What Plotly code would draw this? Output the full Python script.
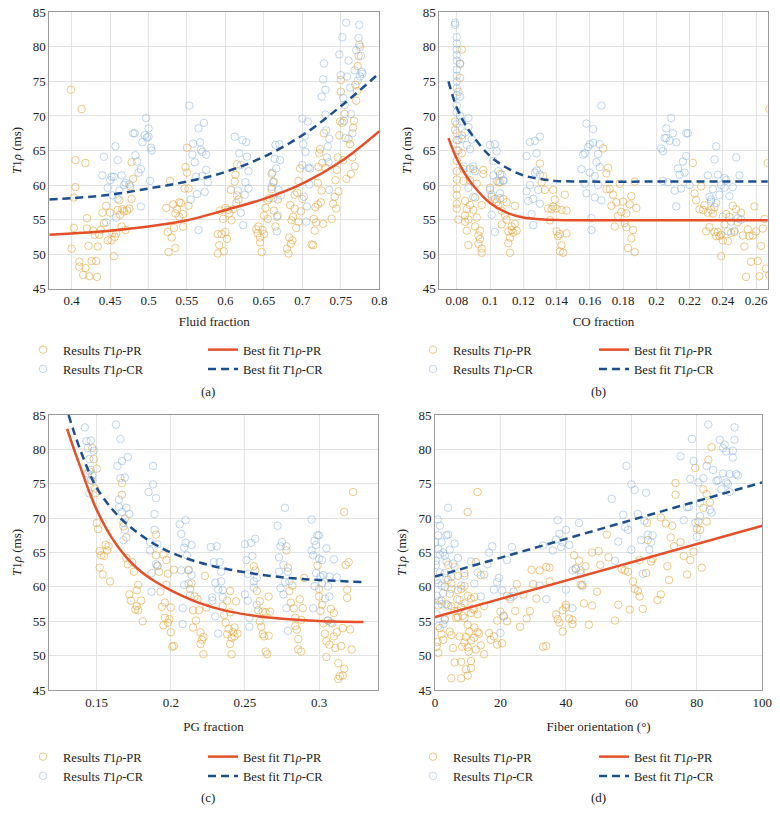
import plotly.graph_objects as go

# ---------------- data ----------------
A_PR = [(0.399,73.8),(0.40,50.8),(0.403,53.8),(0.403,58.2),(0.405,63.6),(0.405,59.7),(0.41,48.9),(0.41,48.2),(0.413,71),(0.415,47),
        (0.418,63.2),(0.418,48),(0.42,55.2),(0.42,53.7),(0.422,51.2),(0.423,46.8),(0.426,49),(0.428,53.4),(0.43,52.8),(0.432,49),
        (0.433,46.7),(0.434,51.1),(0.436,52.8),(0.438,53.5),(0.44,56),(0.442,54.5),(0.445,57),(0.447,52),(0.45,56),(0.452,52),
        (0.453,53.1),(0.455,49.7),(0.456,52.5),(0.458,53),(0.46,56.4),(0.462,57.8),(0.463,55.7),(0.465,54),(0.466,56.5),(0.468,56.2),
        (0.47,53.5),(0.472,56.3),(0.475,56.6),(0.478,58),(0.48,60.9),(0.478,63.3),(0.476,59.8),
        (0.523,56.7),(0.525,53.2),(0.526,50.3),(0.528,60.6),(0.53,52.4),(0.532,57.2),(0.533,53.8),(0.535,50.9),(0.535,55.9),(0.537,56.5),
        (0.54,57.5),(0.54,55.4),(0.542,57.4),(0.545,55.8),(0.545,54),(0.547,59.5),(0.548,62.6),(0.55,61.8),(0.55,65.4),(0.552,59.5),(0.552,57),
        (0.59,52.9),(0.59,50.1),(0.592,51.3),(0.593,56.3),(0.595,52.9),(0.597,55.1),(0.598,50.4),(0.6,56.7),(0.6,53.2),(0.602,52.2),
        (0.603,56.4),(0.605,55.9),(0.607,59.3),(0.608,54.9),(0.61,56.5),(0.612,60.5),(0.613,61.5),(0.615,63),(0.615,58.5),(0.617,57.9),
        (0.64,53.6),(0.642,53),(0.643,54),(0.645,52.4),(0.645,51.7),(0.647,50.3),(0.648,53.5),(0.65,52.9),(0.65,55.6),(0.652,56.7),
        (0.655,55.1),(0.655,57.8),(0.657,58.1),(0.66,59.4),(0.66,61.6),(0.662,60.4),(0.663,56.3),(0.665,54),(0.667,55.4),(0.668,57.9),
        (0.68,50.8),(0.682,50.1),(0.683,52.4),(0.684,57.1),(0.685,51.5),(0.686,54.9),(0.687,52),(0.688,55.4),(0.69,56.6),(0.69,58.6),
        (0.692,53.8),(0.693,58.9),(0.695,60.6),(0.695,54.7),(0.697,62.4),(0.698,56.2),(0.7,58),
        (0.712,51.4),(0.714,51.3),(0.715,55.1),(0.716,53.4),(0.717,56.8),(0.718,54.6),(0.72,57.2),(0.72,60.3),(0.721,62.6),(0.722,64.6),
        (0.723,65.2),(0.724,57.5),(0.725,59.2),(0.726,63.2),(0.727,54.4),(0.728,67.5),(0.73,62.5),
        (0.738,55.1),(0.74,57.3),(0.742,58.3),(0.743,60.7),(0.744,56.6),(0.745,62.2),(0.746,64),(0.747,59.1),(0.748,67.2),(0.749,69.2),
        (0.75,73.5),(0.75,75.2),(0.752,69),(0.753,63.6),(0.755,70.3),(0.757,60.9),(0.76,66.7),(0.762,65.9),(0.763,61.6),(0.765,64),
        (0.766,68.3),(0.767,69.3),(0.768,62.7),(0.769,74.5),(0.77,72.2),(0.771,73.6),(0.772,77.2),(0.773,78.7),(0.774,80.3)]
A_CR = [(0.44,61.4),(0.442,64.1),(0.445,54.6),(0.447,59.6),(0.45,60.7),(0.452,61.2),(0.453,58.5),(0.455,61.2),(0.457,65.6),(0.458,55.3),
        (0.46,63.6),(0.46,58),(0.462,59.2),(0.465,61.4),(0.468,60),(0.47,60.3),(0.475,60.1),(0.48,67.5),(0.482,67.5),(0.483,64.3),
        (0.485,63.4),(0.487,61.8),(0.49,62.3),(0.49,56.9),(0.492,66.2),(0.495,67.2),(0.497,69.7),(0.498,66.9),(0.5,68.2),(0.5,67),
        (0.502,60.6),(0.503,65.4),(0.504,65),
        (0.553,71.5),(0.555,57.9),(0.557,64.4),(0.558,66),(0.56,63.3),(0.562,61.2),(0.563,58.7),(0.565,68.2),(0.565,53.5),(0.567,66.2),
        (0.568,65.1),(0.57,64.8),(0.57,61.3),(0.572,69),(0.573,59),(0.575,64.4),(0.575,62.2),(0.577,60.4),
        (0.612,67),(0.614,57.4),(0.616,59.2),(0.618,64.6),(0.62,62.9),(0.62,56),(0.622,66.5),(0.623,54.2),(0.625,58.6),(0.626,60.4),
        (0.627,66.2),(0.628,64.1),(0.63,59.5),(0.63,62),
        (0.66,59.7),(0.661,61.8),(0.662,58.1),(0.663,60.5),(0.664,63.8),(0.665,65.8),(0.666,62.4),(0.667,53.3),(0.668,55.6),(0.669,59.3),
        (0.67,65.9),(0.671,63.6),(0.672,58.5),
        (0.7,69.6),(0.7,62.9),(0.701,65.9),(0.702,58.3),(0.703,67.1),(0.704,64.8),(0.705,54.7),(0.706,56.9),(0.707,69.2),(0.708,62.5),
        (0.709,60.1),(0.71,62.4),
        (0.725,72.8),(0.727,75.3),(0.728,77.6),(0.73,73.8),(0.73,70.2),(0.731,67.9),(0.732,64),(0.733,65.6),(0.734,63.3),(0.735,66.7),(0.735,59.3),
        (0.748,78.9),(0.75,75.9),(0.752,81.4),(0.753,72.6),(0.754,69.3),(0.755,71.6),(0.756,66.8),(0.757,83.5),(0.758,75.7),(0.76,78),
        (0.762,74.1),(0.763,70.3),(0.765,67.5),(0.768,76.6),(0.77,79.5),(0.772,75.1),(0.773,81.3),(0.774,83.2),(0.775,80),(0.776,78.7),
        (0.777,76.4),(0.778,76.1),(0.775,75.7)]
A_FIT_X = [0.371, 0.40, 0.45, 0.50, 0.55, 0.60, 0.65, 0.70, 0.75, 0.80]
A_FIT_PR = [52.8, 53.0, 53.4, 54.0, 54.9, 56.4, 58.0, 60.2, 63.4, 67.8]
A_FIT_CR = [57.9, 58.1, 58.6, 59.5, 60.5, 61.9, 64.1, 67.2, 71.4, 76.2]

B_PR = [(0.079,69.2),(0.079,68),(0.08,66.5),(0.08,65),(0.08,63.5),(0.08,62),(0.08,60.8),(0.08,59.5),(0.08,58.5),(0.08,57.3),
        (0.08,56.6),(0.081,55),(0.081,73.5),(0.082,75.5),(0.082,77.5),(0.083,79.6),(0.083,67.2),(0.083,64.6),(0.084,62.3),(0.084,60.6),
        (0.085,57.7),(0.085,55.6),(0.085,54.7),(0.086,56.5),(0.086,53.4),(0.087,51.3),(0.087,55),(0.088,57.1),(0.088,60.7),(0.09,62.3),
        (0.09,56.4),(0.091,58.2),(0.091,54),(0.092,60.2),(0.092,55.3),(0.093,52.7),(0.093,51.5),(0.094,53.4),(0.094,52.2),(0.095,57.1),
        (0.095,50.8),(0.095,50.2),(0.096,61.6),(0.096,62.2),(0.1,59.6),(0.101,58.3),(0.103,58),(0.104,57.5),(0.105,60.4),(0.105,57),
        (0.106,61.6),(0.106,60.4),(0.107,56.3),(0.107,54.3),(0.108,58),(0.109,55.7),(0.11,57.5),(0.11,55),(0.111,53.3),(0.111,51.6),
        (0.112,50.2),(0.112,52.4),(0.113,54),(0.113,53.5),(0.114,53.1),(0.115,57),(0.115,54.4),(0.116,53.4),
        (0.13,63.1),(0.131,60.4),(0.132,61.3),(0.133,59.3),(0.135,56.6),(0.136,54.9),(0.137,56.5),(0.138,56.9),(0.138,59.3),(0.139,57.9),
        (0.14,56.6),(0.14,53.3),(0.141,52.6),(0.142,50.4),(0.142,52.9),(0.143,56.4),(0.143,51.3),(0.144,50.2),(0.145,58.6),(0.146,56.3),(0.146,53),
        (0.168,65.3),(0.17,59.4),(0.17,61.7),(0.171,62.5),(0.172,59.4),(0.173,57),(0.174,58.6),(0.175,54),(0.176,57.5),(0.177,55.5),
        (0.178,60.2),(0.179,56.1),(0.18,57.6),(0.181,54.5),(0.182,53.9),(0.182,55.9),(0.183,50.9),(0.184,57.2),(0.185,52.3),(0.185,58.4),
        (0.186,53.5),(0.187,60.5),(0.187,50.3),(0.188,56.7),
        (0.222,63.2),(0.223,58.8),(0.224,57.8),(0.226,56.5),(0.227,59.8),(0.228,56.4),(0.229,57.1),(0.23,53.3),(0.231,56),(0.232,53.9),
        (0.233,56.4),(0.234,55.9),(0.235,56.8),(0.235,53.2),(0.236,52.6),(0.237,53.2),(0.238,52.6),(0.239,49.7),(0.239,52.8),(0.24,52),
        (0.241,54.3),(0.242,55.8),(0.243,51.9),(0.244,55.4),(0.245,53.1),(0.246,57),(0.247,53.2),(0.248,56.5),(0.249,54.6),
        (0.251,56),(0.252,52.7),(0.253,51.1),(0.254,46.7),(0.255,53.6),(0.256,52.6),(0.257,48.9),(0.258,52.7),(0.259,56.9),(0.26,53.3),
        (0.261,49),(0.262,46.8),(0.263,51.2),(0.264,53.7),(0.265,55.1),(0.266,47.9),(0.267,63.2),(0.268,71),(0.268,47)]
B_CR = [(0.079,83.5),(0.079,83.2),(0.08,81.4),(0.08,80.5),(0.08,79.6),(0.08,78.8),(0.08,78),(0.08,76.7),(0.08,75.8),(0.08,75),
        (0.08,74),(0.08,73),(0.08,71.5),(0.08,70.5),(0.08,68.8),(0.08,67.5),(0.081,66.5),(0.081,65),(0.082,77.6),(0.082,72.8),
        (0.082,70),(0.083,69.2),(0.083,66.7),(0.084,62.7),(0.085,67.6),(0.086,65.8),(0.087,69.7),(0.087,68.4),(0.087,59.6),(0.088,65.2),
        (0.088,62.4),(0.089,66.6),(0.09,62.7),(0.09,58.3),(0.091,62),
        (0.1,65.8),(0.1,59.3),(0.101,58.6),(0.101,55.7),(0.102,63.5),(0.102,61.4),(0.103,65.9),(0.103,53.2),(0.104,60.6),(0.104,64.9),
        (0.105,62),(0.106,58.8),(0.106,58.1),(0.107,61.5),(0.108,60.7),(0.108,60.6),
        (0.122,64.2),(0.122,59.1),(0.123,57.7),(0.124,60),(0.124,66.2),(0.125,55.8),(0.126,54.2),(0.126,58),(0.127,61.8),(0.127,66.4),
        (0.128,64.6),(0.128,62.1),(0.129,59.3),(0.13,67),(0.13,61.5),(0.13,57.3),
        (0.155,62.3),(0.156,64.4),(0.157,64.6),(0.157,60.2),(0.158,68.9),(0.158,58.8),(0.159,65.5),(0.16,65.9),(0.16,61.8),(0.161,55.2),
        (0.161,53.5),(0.162,68.1),(0.162,66.1),(0.163,58.2),(0.163,61.3),(0.164,63.3),(0.165,60),(0.165,64.5),(0.166,65.9),(0.166,62.6),
        (0.167,57.8),(0.167,71.5),
        (0.203,65.3),(0.204,64.9),(0.204,60.6),(0.205,66.8),(0.206,66.8),(0.206,68.2),(0.207,60.4),(0.208,66.4),(0.209,69.7),(0.21,67.5),
        (0.211,59.2),(0.212,66.2),(0.212,56.9),(0.213,62.4),(0.214,61.5),(0.215,59.5),(0.216,63.4),(0.217,61.8),(0.218,64.2),(0.218,67.5),
        (0.219,67.5),(0.22,60),
        (0.231,61.4),(0.232,58.3),(0.233,57.6),(0.233,57.9),(0.234,59.4),(0.235,63.7),(0.236,57.4),(0.236,65.6),(0.237,61.5),(0.238,58.6),
        (0.239,60),(0.24,55.4),(0.241,61),(0.241,59.6),(0.242,60.7),(0.243,53.3),(0.244,58.4),(0.245,54.7),(0.246,59.7),(0.247,53.4),
        (0.248,64),(0.249,55.2),(0.25,61.4),(0.251,55)]
B_FIT_X = [0.075, 0.08, 0.085, 0.09, 0.10, 0.11, 0.12, 0.13, 0.14, 0.16, 0.20, 0.24, 0.268]
B_FIT_PR = [66.8, 63.8, 61.6, 59.9, 57.4, 56.0, 55.3, 55.05, 54.95, 54.9, 54.9, 54.9, 54.9]
B_FIT_CR = [75.0, 71.2, 68.8, 67.0, 64.2, 62.5, 61.4, 60.9, 60.6, 60.5, 60.5, 60.5, 60.5]

C_PR = [(0.145,76.8),(0.146,75.5),(0.147,80.2),(0.148,78.6),(0.149,74.3),(0.149,73.6),(0.15,77.2),(0.15,69.3),(0.151,68.4),(0.152,65.2),
        (0.152,62.8),(0.153,64.6),(0.154,61.8),(0.155,64.5),(0.156,66.1),(0.157,65.3),(0.158,65.9),(0.159,60.8),
        (0.167,75.1),(0.167,73.4),(0.168,68.8),(0.169,69.9),(0.17,67.2),(0.17,64.2),(0.171,63.3),(0.172,58.9),(0.173,58),(0.174,63.6),
        (0.175,62.2),(0.176,56.7),(0.177,57.2),(0.177,59.5),(0.178,56.6),(0.178,60.3),(0.18,58),(0.181,55),
        (0.19,67.6),(0.19,64.6),(0.191,63),(0.192,62.2),(0.193,59.3),(0.194,57.1),(0.195,54.4),(0.196,57.7),(0.196,55.5),(0.197,60.3),
        (0.197,63.9),(0.198,61.9),(0.199,55.3),(0.2,53.4),(0.2,57),(0.201,51.3),(0.202,51.4),(0.202,62.5),(0.198,54.8),(0.195,64.7),
        (0.212,62.4),(0.213,59.7),(0.214,60.5),(0.215,56.6),(0.215,54.1),(0.216,58.6),(0.217,55.1),(0.218,58.2),(0.219,56.6),(0.22,51.7),
        (0.22,53.4),(0.221,52.3),(0.222,50.2),(0.222,52.7),(0.223,61.6),(0.224,57),
        (0.235,57.2),(0.236,55.9),(0.237,54.8),(0.238,53.1),(0.238,58),(0.239,53.9),(0.24,51.7),(0.24,56.3),(0.241,52.6),(0.241,50.2),
        (0.242,53.4),(0.243,54.1),(0.243,52.8),(0.244,57.9),(0.245,53.2),(0.24,59.4),
        (0.256,63),(0.257,62.4),(0.258,59.4),(0.259,56.6),(0.26,57.9),(0.26,55),(0.261,54.2),(0.262,56.4),(0.262,53.1),(0.263,52.8),
        (0.264,50.6),(0.264,56.3),(0.265,50.2),(0.266,52.9),(0.266,58.6),(0.267,56.4),
        (0.278,65.3),(0.279,62.8),(0.28,59.4),(0.281,57.7),(0.282,60.2),(0.283,56.9),(0.284,54.3),(0.284,55.5),(0.285,53.8),(0.286,52.4),
        (0.286,50.9),(0.287,58.2),(0.288,50.6),(0.288,55.2),(0.289,56.9),(0.29,61.3),
        (0.299,63.1),(0.3,59.7),(0.3,58.6),(0.301,56.5),(0.302,57.4),(0.303,54.7),(0.304,53.2),(0.305,52.1),(0.305,49.8),(0.306,55.1),
        (0.307,51.6),(0.308,56.8),(0.309,54.7),(0.31,56.2),(0.31,52.8),(0.311,51.1),(0.312,53.4),(0.313,48.9),(0.313,46.6),(0.314,47),
        (0.315,51.4),(0.316,54),(0.316,47.1),(0.317,48.1),(0.317,70.9),(0.318,63.2),(0.319,59.6),(0.319,58.4),(0.32,63.6),(0.321,53.8),
        (0.322,50.9),(0.323,73.8)]
C_CR = [(0.142,83.2),(0.143,81.2),(0.144,80.2),(0.144,76.5),(0.145,78.6),(0.145,73.6),(0.146,81.3),(0.146,77),(0.147,76.2),(0.147,75.4),(0.148,79.8),
        (0.163,83.6),(0.164,77.6),(0.165,72.7),(0.165,71.6),(0.166,81.5),(0.166,75.8),(0.167,78.3),(0.167,70.9),(0.168,69.3),(0.168,66.8),
        (0.169,75.9),(0.169,68.3),(0.17,71.5),(0.171,78.9),(0.172,70.6),
        (0.185,73.8),(0.186,66.5),(0.186,65.3),(0.187,62),(0.187,59.3),(0.188,77.6),(0.188,74.9),(0.189,70.6),(0.189,68.3),(0.19,63.3),
        (0.19,72.9),(0.191,66.2),(0.191,63.1),
        (0.206,69.1),(0.207,67.7),(0.207,62.4),(0.208,56.9),(0.208,54.6),(0.209,65.7),(0.209,60.3),(0.21,69.7),(0.21,66.4),(0.211,64.6),
        (0.212,62.5),(0.212,60.5),(0.213,58.8),(0.214,66.1),(0.214,61.7),
        (0.227,65.8),(0.228,58.5),(0.228,58),(0.229,63.6),(0.23,60.6),(0.23,55.7),(0.231,65.9),(0.232,59.6),(0.232,53.2),(0.233,63.6),
        (0.234,62.2),(0.234,60.8),(0.235,59.5),(0.235,58.5),
        (0.25,66.2),(0.25,58.9),(0.251,63.9),(0.252,61.9),(0.252,58),(0.253,55.5),(0.253,54.2),(0.254,66.4),(0.255,64.5),(0.256,60.8),
        (0.256,59.9),(0.257,67),(0.258,57.4),(0.258,61.3),
        (0.272,68.9),(0.273,64.3),(0.273,62.2),(0.274,65.9),(0.274,59.8),(0.275,66.5),(0.276,63.2),(0.276,58.9),(0.277,71.5),(0.277,60.7),
        (0.278,65.9),(0.278,56.9),(0.279,62.2),(0.279,53.6),(0.28,60.8),
        (0.295,69.8),(0.295,65.3),(0.296,64.6),(0.296,56.9),(0.297,66.7),(0.297,60.1),(0.298,66.1),(0.298,62),(0.299,67.5),(0.3,67.5),
        (0.3,64.1),(0.301,61.5),(0.302,63.9),(0.302,60.5),(0.303,61.7),(0.304,58.3),(0.305,65.6),(0.306,60.1),(0.306,55.1),(0.307,58.6),
        (0.307,61.5),(0.308,54.8),(0.31,64),(0.312,61.4)]
C_FIT_X = [0.13, 0.135, 0.14, 0.145, 0.15, 0.16, 0.17, 0.18, 0.19, 0.20, 0.22, 0.24, 0.26, 0.28, 0.30, 0.33]
C_FIT_PR = [83.0, 79.8, 76.8, 73.8, 71.2, 67.2, 64.3, 62.2, 60.7, 59.5, 57.6, 56.4, 55.7, 55.3, 55.05, 54.9]
C_FIT_CR_X = [0.131, 0.135, 0.14, 0.145, 0.15, 0.16, 0.17, 0.18, 0.19, 0.20, 0.22, 0.24, 0.26, 0.28, 0.30, 0.33]
C_FIT_CR = [85.0, 82.3, 79.3, 76.6, 74.4, 71.4, 69.2, 67.5, 66.1, 65.0, 63.5, 62.5, 61.8, 61.3, 61.0, 60.7]

D_PR = [(0.5,51.3),(0.8,52),(1,50.4),(1.5,54),(2,53.1),(2.5,52.3),(3,55.4),(3.5,57.5),(4,61),(4.5,53.5),(5,46.7),(5.5,51.1),(5,53),
        (6,49),(6.5,55.5),(6.8,58.2),(7,56.5),(7.5,52.8),(8,49.1),(8,46.7),(8.3,51.3),(8.5,55.8),(9,57.6),(9,60.1),(9.5,48),(9.5,52.7),
        (10,47.1),(10,70.9),(10.3,50.6),(10.5,53.5),(11,49.2),(11,52.2),(11,48.2),(11.5,56.8),(12,58.5),(12,54.1),(12.5,63.6),(12.5,50.9),
        (13,53.4),(13,73.8),(13.5,53.2),(14,51.5),(15,50.2),(4,63.2),(5,60.5),(6,62.9),(7,61.6),(8,59.7),(9,62),(10,54.5),(11,56.2),
        (3,60),(2,58),(1,57.3),(6,56.5),(7,55.6),(8,57),(9,55.5),(10,58.7),(11,58.3),(12,56.7),(13,56),(14,61.7),(5,57.2),(9,51.9),
        (10,51.2),(12,52.6),(7,59.5),(4.5,59),(15,57.2),
        (16.5,53.3),(17,52.3),(18,52.8),(19,51.6),(19,55.1),(20,56.4),(20.5,51.8),(21,55.8),(22,55),(22,58.7),(23,58.2),(24.5,56.5),
        (25,60.4),(26,54.2),(27,58.9),(28,55.4),(29,56.5),(29.5,62.5),(30,60.4),(31,58.3),(32,62.4),(33,51.3),(34,51.4),(34,62.9),
        (35,62.8),(35,60.8),
        (37,56),(37.5,55.3),(38,54.8),(39,53.5),(39,56.6),(40,57),(40,57.4),(41,55.4),(42,54.6),(42,55.2),(42.5,64.6),(43,62.7),(44,63.8),
        (44.5,62),(44.5,60.3),(45,60.3),(45.5,57.6),(46,63),(47,54.5),(48,65),(48,57.3),(49.5,59.3),(50,65.2),(50.5,63.2),(52.5,67.6),(53,64.3),
        (55,55.1),(56,57.4),(57,62.6),(58,62.4),(59,62.2),(59.5,56.7),(60.5,60.8),(61,59.7),(62,59.4),(62.5,58.6),(62.5,63.9),(63.5,56.8),
        (64.5,62),(64.8,69.3),(65,66.8),(66,63.7),(66.5,64.1),(68,58.1),(69,58.9),(69,70.1),(70.5,69.2),(71,63),(71.5,61),(72,67.2),
        (72.5,68.9),(73,65.9),(73.5,75.1),(73.5,73.4),
        (75,66.5),(76,64.5),(77,61.8),(78,63.9),(79,65.1),(79.5,77.3),(80,68.5),(80.5,69.5),(81,68.3),(81.5,62.8),(82,71.5),(82,74.2),
        (83,73.5),(83.5,78.5),(84,72.3),(84.5,80.3),(83,69.5)]
D_CR = [(0,66.5),(0.3,63.2),(0.5,61),(0.5,58.7),(0.8,69.8),(1,67.5),(1,65.5),(1,60.5),(1.2,58),(1.5,68.9),(1.5,64.7),(1.5,62.1),
        (2,66.5),(2,60.2),(2,57.5),(2.5,65),(2.5,59.1),(3,64.5),(3,62),(3,55.2),(3.5,67.5),(3.5,61.3),(4,71.5),(4,67.6),(4,57.3),
        (4.5,65.4),(5,59.7),(5,61.5),(5.5,63.4),(6,66.3),(7,64.2),(7.5,58.1),(8,60.2),(9,61.6),(11,63.7),(12,60.5),(13,62.1),(14,58.6),
        (15,61.8),(16,63.3),(16.5,65),(17.5,65.9),(18,59.6),(19,60.7),(19.5,61.3),(20,53.3),(20.5,59.5),(21,55.7),(22,63.9),(23,58.5),
        (23.5,65.8),(24,58.7),(24,59.3),(0.2,63.8),(0.5,56),(1,54.3),(2.5,54.6),(3.5,63.7),
        (32,60.2),(33,66),(34,58.2),(36,65.3),(37,66.9),(37.5,69.7),(38,67.7),(38.5,65.8),(39,66.5),(40,68.3),(40,59.6),(41,66.1),
        (42,62.4),(42,56.9),(43,62.6),(44,69.3),(44.5,62.4),(45,60.1),
        (54,72.8),(55,63.8),(56,66.6),(57.5,70.5),(58,68.7),(58.5,77.6),(59,68.3),(60,74.9),(60,65.4),(61,74.1),(62,70.6),(63,66.8),
        (63.5,61.9),(64,69.6),(64.5,73.7),(65,67.6),(65.5,65.4),(66,66.5),(66.5,67.5),
        (75,79),(76,69.7),(77,71.6),(77.5,71.6),(78,75.7),(78.5,81.5),(79,78.3),(79.5,69.3),(80,67.3),(80.5,75.2),(81,72.2),(81,70.3),
        (82,75.8),(83,77.6),(83.5,83.6),(84,71.2),(84.5,70.8),(85,77),(86,75.4),(86.5,75.5),(87,81.4),(87.5,74.2),(88,80.2),(88,76.5),
        (88.5,80.7),(89,79.7),(89.5,75),(90,76.4),(90,73.8),(91,78.8),(91,79.8),(91.5,81.4),(91.5,83.2),(92,76.4),(92.5,76.2),(89,75.2)]
D_FIT_X = [0, 100]
D_FIT_PR = [55.6, 68.9]
D_FIT_CR = [61.5, 75.2]

Y_TICKS = [45, 50, 55, 60, 65, 70, 75, 80, 85]
A_TICKS = [0.4, 0.45, 0.5, 0.55, 0.6, 0.65, 0.7, 0.75, 0.8]
A_TICKTEXT = ["0.4", "0.45", "0.5", "0.55", "0.6", "0.65", "0.7", "0.75", "0.8"]
B_TICKS = [0.08, 0.1, 0.12, 0.14, 0.16, 0.18, 0.2, 0.22, 0.24, 0.26]
B_TICKTEXT = ["0.08", "0.1", "0.12", "0.14", "0.16", "0.18", "0.2", "0.22", "0.24", "0.26"]
C_TICKS = [0.15, 0.2, 0.25, 0.3]
C_TICKTEXT = ["0.15", "0.2", "0.25", "0.3"]
D_TICKS = [0, 20, 40, 60, 80, 100]
D_TICKTEXT = ["0", "20", "40", "60", "80", "100"]

X_TITLES = ["Fluid fraction", "CO fraction", "PG fraction", "Fiber orientation (°)"]
PANEL_LABELS = ["(a)", "(b)", "(c)", "(d)"]
NAME_RES_PR = "Results <i>T</i>1<i>ρ</i>-PR"
NAME_RES_CR = "Results <i>T</i>1<i>ρ</i>-CR"
NAME_FIT_PR = "Best fit <i>T</i>1<i>ρ</i>-PR"
NAME_FIT_CR = "Best fit <i>T</i>1<i>ρ</i>-CR"

# ---------------- styling ----------------
FONT = "Liberation Serif"
PR_MARK = "rgba(228,166,62,0.62)"
CR_MARK = "rgba(125,172,222,0.5)"
PR_LINE = "#E4502A"
CR_LINE = "#1D4F8F"
GRID = "#E3E3E3"
FRAME = "#9A9A9A"

fig = go.Figure()

panels = [
    dict(pr=A_PR, cr=A_CR, fx=A_FIT_X, fxc=A_FIT_X, fpr=A_FIT_PR, fcr=A_FIT_CR, xa="x", ya="y"),
    dict(pr=B_PR, cr=B_CR, fx=B_FIT_X, fxc=B_FIT_X, fpr=B_FIT_PR, fcr=B_FIT_CR, xa="x2", ya="y2"),
    dict(pr=C_PR, cr=C_CR, fx=C_FIT_X, fxc=C_FIT_CR_X, fpr=C_FIT_PR, fcr=C_FIT_CR, xa="x3", ya="y3"),
    dict(pr=D_PR, cr=D_CR, fx=D_FIT_X, fxc=D_FIT_X, fpr=D_FIT_PR, fcr=D_FIT_CR, xa="x4", ya="y4"),
]

for i, p in enumerate(panels):
    lm = "legend" if i == 0 else f"legend{2*i+1}"
    ll = f"legend{2*i+2}"
    fig.add_trace(go.Scatter(x=[q[0] for q in p["pr"]], y=[q[1] for q in p["pr"]], mode="markers",
                             marker=dict(symbol="circle-open", size=7.5, color=PR_MARK, line=dict(width=1)),
                             name=NAME_RES_PR, xaxis=p["xa"], yaxis=p["ya"], legend=lm))
    fig.add_trace(go.Scatter(x=[q[0] for q in p["cr"]], y=[q[1] for q in p["cr"]], mode="markers",
                             marker=dict(symbol="circle-open", size=7.5, color=CR_MARK, line=dict(width=1)),
                             name=NAME_RES_CR, xaxis=p["xa"], yaxis=p["ya"], legend=lm))
    fig.add_trace(go.Scatter(x=p["fx"], y=p["fpr"], mode="lines", line=dict(color=PR_LINE, width=2.5, shape="spline"),
                             name=NAME_FIT_PR, xaxis=p["xa"], yaxis=p["ya"], legend=ll))
    fig.add_trace(go.Scatter(x=p["fxc"], y=p["fcr"], mode="lines",
                             line=dict(color=CR_LINE, width=2.5, dash="8px,5px", shape="spline"),
                             name=NAME_FIT_CR, xaxis=p["xa"], yaxis=p["ya"], legend=ll))

W, H = 780, 820
def px(v):
    return v / W
def py(v):
    return 1 - v / H

doms = [
    ((49.3, 379.3), (12.3, 288.7)),
    ((439.3, 767.7), (12.3, 288.7)),
    ((49.3, 377.7), (415, 690)),
    ((435, 762.3), (415, 690)),
]
xranges = [[0.371, 0.8], [0.0695, 0.267], [0.118, 0.3396], [0, 100]]
xticks = [(A_TICKS, A_TICKTEXT), (B_TICKS, B_TICKTEXT), (C_TICKS, C_TICKTEXT), (D_TICKS, D_TICKTEXT)]
xstand = [9, 9, 13, 13]

layout = dict(width=W, height=H, margin=dict(l=0, r=0, t=0, b=0, autoexpand=False),
              paper_bgcolor="white", plot_bgcolor="white",
              font=dict(family=FONT, size=13, color="#222"), showlegend=True)

axis_common = dict(showgrid=True, gridcolor=GRID, gridwidth=1, zeroline=False, showline=True, linecolor=FRAME,
                   linewidth=1, mirror=True, ticks="", tickfont=dict(family=FONT, size=13, color="#222"))

for i in range(4):
    (x0, x1), (ytop, ybot) = doms[i]
    sfx = "" if i == 0 else str(i + 1)
    layout["xaxis" + sfx] = dict(axis_common, domain=[px(x0), px(x1)], range=xranges[i], tickmode="array",
                                 tickvals=xticks[i][0], ticktext=xticks[i][1], anchor="y" + sfx,
                                 title=dict(text=X_TITLES[i], font=dict(family=FONT, size=13), standoff=xstand[i]))
    layout["yaxis" + sfx] = dict(axis_common, domain=[py(ybot), py(ytop)], range=[45, 85], tickmode="array",
                                 tickvals=Y_TICKS, anchor="x" + sfx,
                                 title=dict(text="<i>T</i>1<i>ρ</i> (ms)", font=dict(family=FONT, size=13), standoff=8))

leg_pos = [  # (marker legend x, line legend x, top y)
    (23, 203, 335),
    (413, 594, 335),
    (23, 203, 742),
    (413, 594, 742),
]
for i, (xm, xl, yt) in enumerate(leg_pos):
    lm = "legend" if i == 0 else f"legend{2*i+1}"
    ll = f"legend{2*i+2}"
    for key, xx in ((lm, xm), (ll, xl)):
        layout[key] = dict(x=px(xx), y=py(yt), xanchor="left", yanchor="top", bgcolor="rgba(0,0,0,0)",
                           font=dict(family=FONT, size=12.5, color="#222"), itemwidth=30, tracegroupgap=0)

annotations = []
label_pos = [(208, 391), (598, 391), (208, 797), (598, 797)]
for i, (lx, ly) in enumerate(label_pos):
    annotations.append(dict(text=PANEL_LABELS[i], x=px(lx), y=py(ly), xref="paper", yref="paper",
                            xanchor="center", yanchor="middle",
                            showarrow=False, font=dict(family=FONT, size=13, color="#222")))
layout["annotations"] = annotations

fig.update_layout(**layout)
fig.write_html("out.html", config={"displayModeBar": False},
               post_script="document.body.style.margin='0px';")
